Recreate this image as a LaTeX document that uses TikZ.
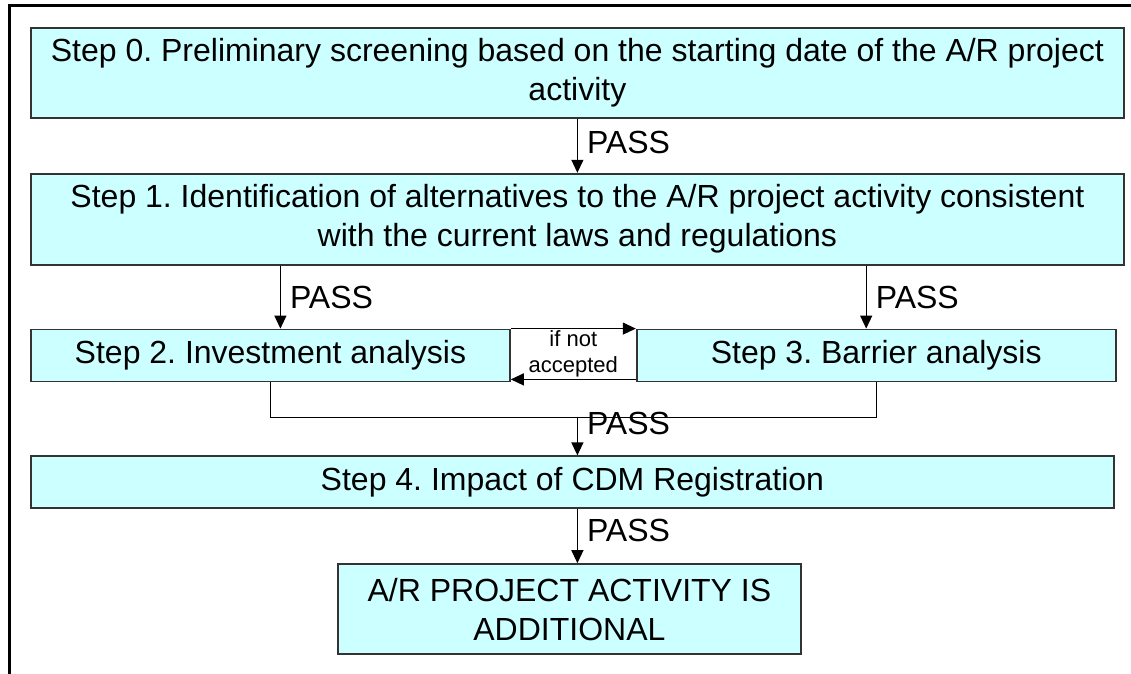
\documentclass[tikz,border=0pt]{standalone}
\usepackage{fontspec}
\setmainfont{Liberation Sans}
\usetikzlibrary{positioning,calc,arrows.meta}
\definecolor{boxfill}{HTML}{CCFFFF}
\frenchspacing

\begin{document}
\begin{tikzpicture}[x=0.5pt,y=-0.5pt]
        \tikzstyle{stepbox} = [rectangle, draw=black!80, line width=0.9pt, fill=boxfill, align=center, inner sep=0pt, font=\fontsize{16}{19.5}\selectfont]
        \tikzstyle{arrow} = [line width=0.6pt,-{Triangle[length=6.5pt,width=6pt]}]
        \tikzstyle{pass} = [anchor=west, inner sep=4.5pt, font=\fontsize{16}{19.5}\selectfont]
        \tikzstyle{frame} = [line width=1.5pt]

        \useasboundingbox (0,0) rectangle (1131,674);
        \draw [frame] (9,674) -- (9,6) -- (1131,6);

        \node (step0) [stepbox, minimum width=546.5pt, minimum height=45pt, anchor=north west] at (30,27)
            {Step 0. Preliminary screening based on the starting date of the A/R project\\activity};
        \node (step1) [stepbox, minimum width=546.5pt, minimum height=45.5pt, below=27pt of step0]
            {Step 1. Identification of alternatives to the A/R project activity consistent\\with the current laws and regulations};
        \node (step2) [stepbox, minimum width=239.5pt, minimum height=26pt, below right=31.5pt and 0pt of step1.south west]
            {Step 2. Investment analysis};
        \node (step3) [stepbox, minimum width=239.5pt, minimum height=26pt, right=62.5pt of step2]
            {Step 3. Barrier analysis};
        \node (step4) [stepbox, minimum width=541.5pt, minimum height=26pt, below right=36.5pt and 0pt of step2.south west]
            {Step 4. Impact of CDM Registration};
        \node (result) [stepbox, minimum width=231.5pt, minimum height=45pt, below=27pt of step4, xshift=-1.5pt]
            {A/R PROJECT ACTIVITY IS\\ADDITIONAL};
        \node (ifnot) [align=center, inner sep=0pt, font=\fontsize{11}{13}\selectfont] at ($(step2.east)!0.5!(step3.west)+(0,-2)$)
            {if not\\accepted};
        \coordinate (join) at ([yshift=-17.5pt]step2.south -| step0.south);

        \draw [arrow] (step0.south) -- node[pass, pos=0.43] {PASS} (step1.north);
        \draw [arrow] ([xshift=5pt]step2.north |- step1.south) -- node[pass] {PASS} ([xshift=5pt]step2.north);
        \draw [arrow] ([xshift=-5pt]step3.north |- step1.south) -- node[pass] {PASS} ([xshift=-5pt]step3.north);
        \draw [arrow] (step2.north east) -- (step3.north west);
        \draw [arrow] ([yshift=1.5pt]step3.south west) -- ([yshift=1.5pt]step2.south east);
        \draw [line width=0.6pt] (step2.south) |- (join) -| (step3.south);
        \draw [arrow] (join) -- node[pass, pos=0.16] {PASS} (step4.north -| join);
        \draw [arrow] (step4.south -| join) -- node[pass, pos=0.4] {PASS} (result.north -| join);
    \end{tikzpicture}
\end{document}
